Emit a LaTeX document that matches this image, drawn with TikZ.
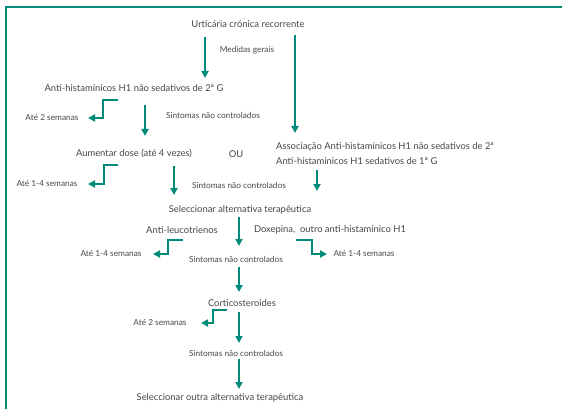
\documentclass[tikz,border=0pt]{standalone}
\usepackage{fontspec}
\setmainfont{Lato}
\usetikzlibrary{arrows.meta}
\definecolor{teal1}{RGB}{0,138,122}
\definecolor{txt}{RGB}{70,70,70}
\tikzset{
  big/.style={text=txt, inner sep=0pt, font=\fontsize{9.4}{11}\selectfont},
  small/.style={text=txt, inner sep=0pt, font=\fontsize{8.3}{10}\selectfont},
  arr/.style={draw=teal1, line width=1.8pt, -{Triangle[width=7pt,length=7pt]}},
}
\begin{document}
\begin{tikzpicture}[x=1pt,y=-1pt]
\useasboundingbox (0,0) rectangle (562,409);
\draw[teal1, line width=1.6pt] (6,409) -- (6,7) -- (562,7);

% texts
\node[big] (urt) at (248,24) {Urticária crónica recorrente};
\node[small] (med) at (247,50) {Medidas gerais};
\node[big] (anti) at (134,88) {Anti-histamínicos H1 não sedativos de 2ª G};
\node[small] (ate1) at (52,118) {Até 2 semanas};
\node[small] (sint1) at (213,115) {Sintomas não controlados};
\node[big] (aum) at (134,154) {Aumentar dose (até 4 vezes)};
\node[big] (ou) at (236,154) {OU};
\node[big, anchor=west] (assoc1) at (276,147) {Associação Anti-histamínicos H1 não sedativos de 2ª};
\node[big, anchor=west] (assoc2) at (276,161) {Anti-histamínicos H1 sedativos de 1ª G};
\node[small] (ate2) at (47,184) {Até 1-4 semanas};
\node[small] (sint2) at (239,185) {Sintomas não controlados};
\node[big] (sel) at (240,210) {Seleccionar alternativa terapêutica};
\node[big] (leuc) at (182,230) {Anti-leucotrienos};
\node[big] (dox) at (330,230) {Doxepina,\ \ outro anti-histamínico H1};
\node[small] (ate3) at (111,254) {Até 1-4 semanas};
\node[small] (ate4) at (364,254) {Até 1-4 semanas};
\node[small] (sint3) at (236,259) {Sintomas não controlados};
\node[big] (cort) at (242,303) {Corticosteroides};
\node[small] (ate5) at (160,323) {Até 2 semanas};
\node[small] (sint4) at (236,353) {Sintomas não controlados};
\node[big] (out) at (220,398) {Seleccionar outra alternativa terapêutica};

% arrow endpoints
\coordinate (a1s) at (205,37);  \coordinate (a1e) at (205,78);
\coordinate (a2s) at (295,35);  \coordinate (a2e) at (295,133);
\coordinate (b1s) at (118,100); \coordinate (b1m) at (103,100); \coordinate (b1e) at (88,118);
\coordinate (a3s) at (145,105); \coordinate (a3e) at (145,136);
\coordinate (b2s) at (118,165); \coordinate (b2m) at (104,165); \coordinate (b2e) at (88,184);
\coordinate (a4s) at (174,166); \coordinate (a4e) at (174,195);
\coordinate (a5s) at (317,170); \coordinate (a5e) at (317,191);
\coordinate (a6s) at (239,217); \coordinate (a6e) at (239,246);
\coordinate (b3s) at (183,240); \coordinate (b3m) at (168,240); \coordinate (b3e) at (153,254);
\coordinate (b4s) at (296,240); \coordinate (b4m) at (312,240); \coordinate (b4e) at (327,254);
\coordinate (a7s) at (239,267); \coordinate (a7e) at (239,292);
\coordinate (b5s) at (227,310); \coordinate (b5m) at (213,310); \coordinate (b5e) at (201,323);
\coordinate (a8s) at (239,312); \coordinate (a8e) at (239,343);
\coordinate (a9s) at (239,359); \coordinate (a9e) at (239,389);

\draw[arr] (a1s) -- (a1e);
\draw[arr] (a2s) -- (a2e);
\draw[arr] (b1s) -- (b1m) |- (b1e);
\draw[arr] (a3s) -- (a3e);
\draw[arr] (b2s) -- (b2m) |- (b2e);
\draw[arr] (a4s) -- (a4e);
\draw[arr] (a5s) -- (a5e);
\draw[arr] (a6s) -- (a6e);
\draw[arr] (b3s) -- (b3m) |- (b3e);
\draw[arr] (b4s) -- (b4m) |- (b4e);
\draw[arr] (a7s) -- (a7e);
\draw[arr] (b5s) -- (b5m) |- (b5e);
\draw[arr] (a8s) -- (a8e);
\draw[arr] (a9s) -- (a9e);
\end{tikzpicture}
\end{document}
